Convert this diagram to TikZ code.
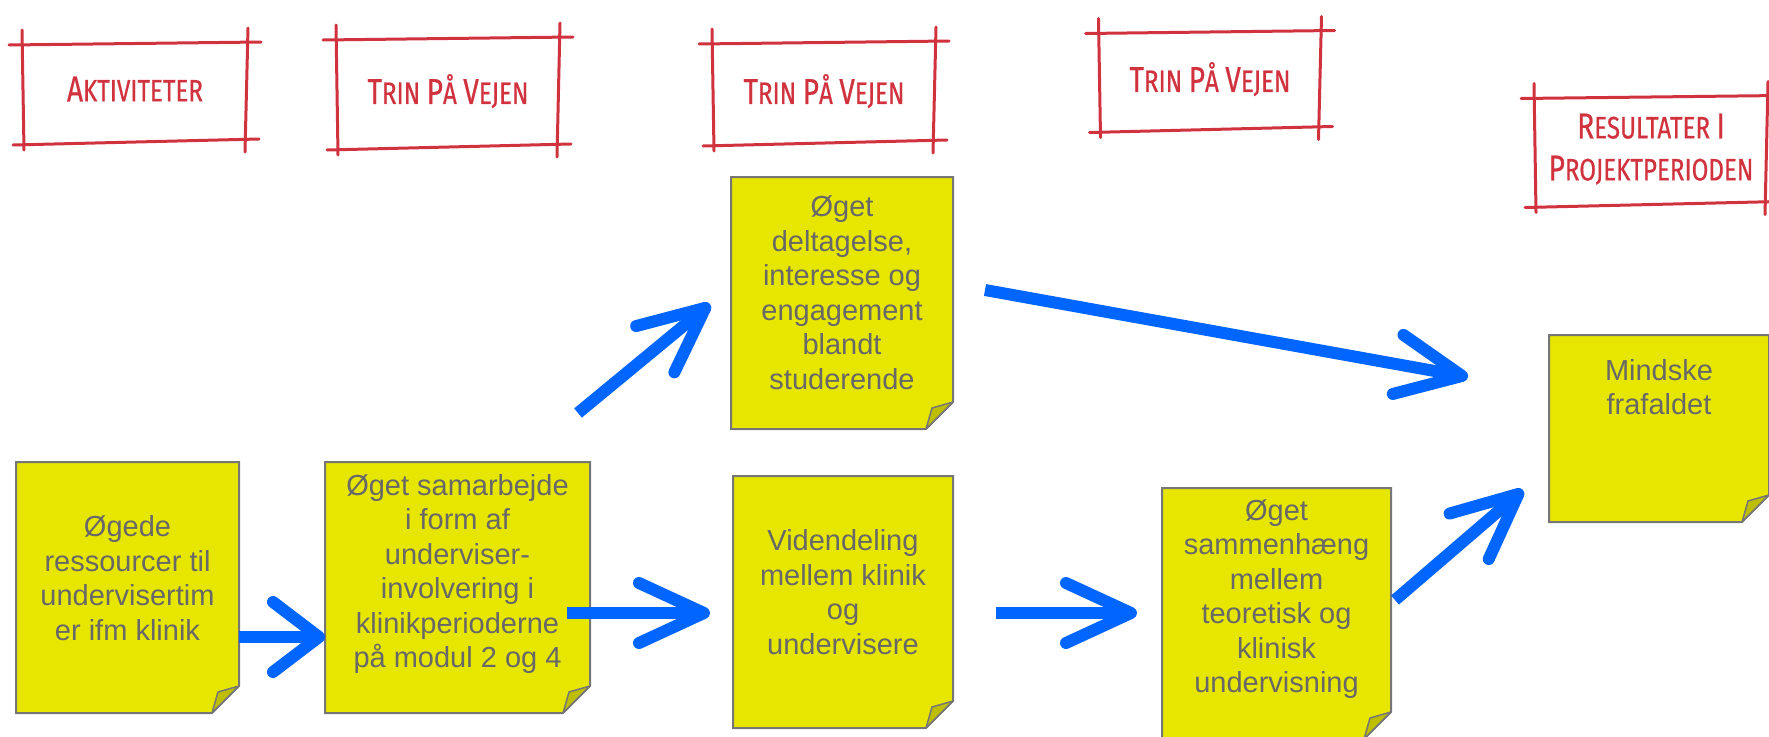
\documentclass[tikz,border=0pt]{standalone}
\usepackage{fontspec}
\setmainfont{Liberation Sans}
\newfontfamily\handfont[FakeStretch=0.78,FakeBold=0.6]{Fira Sans}
\usetikzlibrary{arrows.meta,backgrounds}

\definecolor{noteyellow}{RGB}{230,230,0}
\definecolor{notefold}{RGB}{190,190,0}
\definecolor{noteline}{RGB}{118,118,118}
\definecolor{notegray}{RGB}{104,104,104}
\definecolor{sketchred}{RGB}{208,50,62}
\definecolor{flowblue}{RGB}{0,102,255}

% first letter of a hand-written word
\newcommand{\hcap}[1]{{\fontsize{36}{36}\selectfont #1}}

\tikzset{
  sketchline/.style={draw=sketchred, line width=3pt, line cap=round},
  sketchbox/.style={inner sep=0pt, outer sep=0pt, align=center, text depth=8pt,
    text=sketchred, font=\handfont\fontsize{31}{42}\selectfont,
    append after command={
      ([xshift=-14pt,yshift=-1pt]\tikzlastnode.north west) edge[sketchline] ([xshift=14pt,yshift=2pt]\tikzlastnode.north east)
      ([xshift=-10pt,yshift=-3pt]\tikzlastnode.south west) edge[sketchline] ([xshift=12pt,yshift=3pt]\tikzlastnode.south east)
      ([xshift=-1pt,yshift=14pt]\tikzlastnode.north west) edge[sketchline] ([xshift=1pt,yshift=-8pt]\tikzlastnode.south west)
      ([xshift=1pt,yshift=16pt]\tikzlastnode.north east) edge[sketchline] ([xshift=-2pt,yshift=-10pt]\tikzlastnode.south east)
    }},
  note/.style={inner sep=0pt, outer sep=0pt},
  notetext/.style={text=notegray, font=\fontsize{29}{34.5}\selectfont, align=center},
  notebody/.style={fill=noteyellow, draw=noteline, line width=2pt},
  noteflap/.style={fill=notefold, draw=noteline, line width=1.5pt, line join=round},
  flow/.style={draw=flowblue, line width=12pt, -{Straight Barb[length=65pt, width=60pt, round]}}
}

\begin{document}
\begin{tikzpicture}[x=1pt, y=-1pt]
  \useasboundingbox (0,0) rectangle (1769,736);

  % headings
  \node[sketchbox, minimum width=224pt, minimum height=98pt] (akt) at (135,93) {\hcap{A}KTIVITETER};
  \node[sketchbox, minimum width=222pt, minimum height=108pt] (trin1) at (448,93) {\hcap{T}RIN \hcap{P}Å \hcap{V}EJEN};
  \node[sketchbox, minimum width=222pt, minimum height=100pt] (trin2) at (824,93) {\hcap{T}RIN \hcap{P}Å \hcap{V}EJEN};
  \node[sketchbox, minimum width=221pt, minimum height=97pt] (trin3) at (1210,81) {\hcap{T}RIN \hcap{P}Å \hcap{V}EJEN};
  \node[sketchbox, minimum width=232pt, minimum height=107pt] (res) at (1651,151) {\hcap{R}ESULTATER \hcap{I}\\\hcap{P}ROJEKTPERIODEN};

  % sticky notes
  \node[note, minimum width=223pt, minimum height=251pt,
    label={[notetext, yshift=9.5pt]center:{Øgede\\ressourcer til\\undervisertim\\er ifm klinik}}] (n1) at (127.5,587.5) {};
  \node[note, minimum width=265pt, minimum height=251pt,
    label={[notetext, yshift=13.5pt]center:{Øget samarbejde\\i form af\\underviser-\\involvering i\\klinikperioderne\\på modul 2 og 4}}] (n2) at (457.5,587.5) {};
  \node[note, minimum width=222pt, minimum height=252pt,
    label={[notetext, yshift=10pt]center:{Øget\\deltagelse,\\interesse og\\engagement\\blandt\\studerende}}] (n3) at (842,303) {};
  \node[note, minimum width=220pt, minimum height=252pt,
    label={[notetext, yshift=10pt]center:{Videndeling\\mellem klinik\\og\\undervisere}}] (n4) at (843,602) {};
  \node[note, minimum width=229pt, minimum height=251pt,
    label={[notetext, yshift=14.5pt]center:{Øget\\sammenhæng\\mellem\\teoretisk og\\klinisk\\undervisning}}] (n5) at (1276.5,613.5) {};
  \node[note, minimum width=220pt, minimum height=187pt,
    label={[notetext, yshift=41.5pt]center:{Mindske\\frafaldet}}] (n6) at (1659,428.5) {};

  \begin{scope}[on background layer]
    \foreach \n in {n1,n2,n3,n4,n5,n6}{
      \filldraw[notebody] (\n.north west) -- (\n.north east) -- ([yshift=27pt]\n.south east)
        -- ([xshift=-27pt]\n.south east) -- (\n.south west) -- cycle;
      \filldraw[noteflap] ([yshift=27pt]\n.south east) -- ([xshift=-27pt]\n.south east)
        -- ([xshift=-21pt,yshift=21pt]\n.south east) -- cycle;
    }
  \end{scope}

  % arrows
  \draw[flow, -{Straight Barb[length=46pt, width=70pt, round]}] ([yshift=-49.5pt]n1.east) -- ([yshift=-49.5pt]n2.west);
  \draw[flow] ([xshift=-12pt,yshift=49pt]n2.north east) -- ([xshift=-21pt,yshift=-1pt]n3.west);
  \draw[flow] ([xshift=-23pt,yshift=-25.5pt]n2.east) -- ([xshift=-23pt,yshift=-11pt]n4.west);
  \draw[flow] ([xshift=43pt,yshift=-11pt]n4.east) -- ([xshift=-25pt,yshift=0.5pt]n5.west);
  \draw[flow] ([xshift=4pt,yshift=13.5pt]n5.east) -- ([xshift=-26pt,yshift=-61.5pt]n6.west);
  \draw[flow] ([xshift=32pt,yshift=13pt]n3.east) -- ([xshift=-81pt,yshift=51.5pt]n6.west);
\end{tikzpicture}
\end{document}
